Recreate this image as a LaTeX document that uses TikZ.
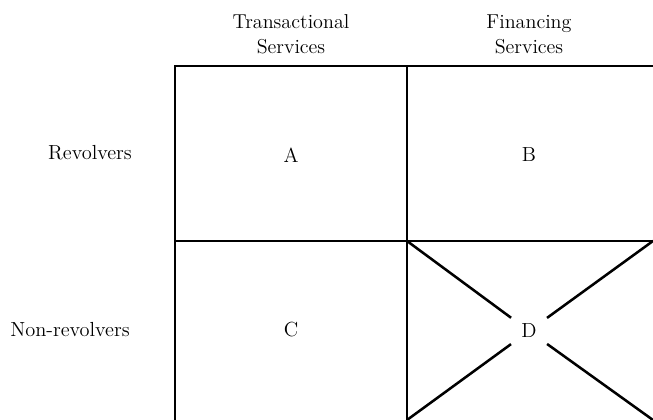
\documentclass[tikz,border=0pt]{standalone}
\usepackage{tikz}
\usetikzlibrary{positioning}

\tikzset{
  grid/.style={line width=1.8pt, line cap=rect},
  cell/.style={font=\fontsize{14.5}{17}\selectfont},
  head/.style={font=\fontsize{14.3}{17.7}\selectfont, align=center},
}

\begin{document}
\begin{tikzpicture}[x=0.025cm, y=-0.025cm]
    \useasboundingbox (0,0) rectangle (653,420);
    % corners of the matrix
    \coordinate (tl) at (175,66);
    \coordinate (tm) at (407,66);
    \coordinate (tr) at (653,66);
    \coordinate (ml) at (175,241);
    \coordinate (mm) at (407,241);
    \coordinate (mr) at (653,241);
    \coordinate (bl) at (175,420);
    \coordinate (bm) at (407,420);
    \coordinate (br) at (653,420);
    % column and row heads
    \node[head] (trans) at (291,34) {Transactional\\ Services};
    \node[head] (fin) at (529,34) {Financing\\ Services};
    \node[cell] (rev) at (90,153) {Revolvers};
    \node[cell] (nonrev) at (70,330) {Non-revolvers};
    % cells
    \node[cell] (A) at (291,155) {A};
    \node[cell] (B) at (529,155) {B};
    \node[cell] (C) at (291,330) {C};
    \node[cell, circle, minimum size=1.1cm] (D) at (529,331) {D};
    % lines
    \draw[grid] (tl) -- (tr);
    \draw[grid] (ml) -- (mr);
    \draw[grid] (tl) -- (bl);
    \draw[grid] (tm) -- (bm);
    \draw[grid, line cap=butt] (mm) -- (D);
    \draw[grid, line cap=butt] (mr) -- (D);
    \draw[grid, line cap=butt] (bm) -- (D);
    \draw[grid, line cap=butt] (br) -- (D);
\end{tikzpicture}
\end{document}
